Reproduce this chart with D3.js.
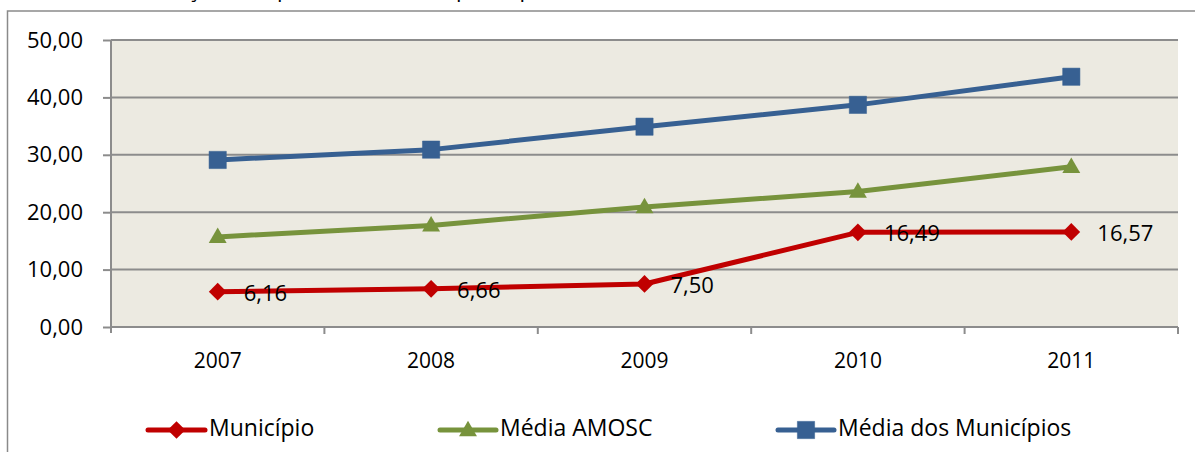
<!DOCTYPE html>
<html>
<head>
<meta charset="utf-8">
<script src="https://cdn.jsdelivr.net/npm/d3@7"></script>
<style>
  html, body { margin: 0; padding: 0; background: #fff; }
  svg { display: block; font-family: "Open Sans", "Liberation Sans", sans-serif; }
</style>
</head>
<body>
<svg id="chart" width="1195" height="452"></svg>
<script>
// Series data (R$ per capita)
const years = ["2007", "2008", "2009", "2010", "2011"];
const municipio = [6.16, 6.66, 7.50, 16.49, 16.57];
const mediaAmosc = [15.7, 17.7, 20.9, 23.6, 27.9];
const mediaMunicipios = [29.1, 30.9, 34.9, 38.7, 43.6];
const yTicks = [0, 10, 20, 30, 40, 50];
const seriesNames = ["Município", "Média AMOSC", "Média dos Municípios"];
const titleText = "Gráfico 10 – Evolução Comparativa do ICMS per capita (em reais) 2007 - 2011";

const colors = { red: "#C00000", green: "#77933C", blue: "#376092" };
const ptBR = d3.formatLocale({ decimal: ",", thousands: ".", grouping: [3], currency: ["R$", ""] });
const fmt = ptBR.format(".2f");

const svg = d3.select("#chart");
const plot = { left: 111, right: 1178, top: 40, bottom: 327 };

const x = d3.scaleBand().domain(years).range([plot.left, plot.right]);
const cx = d => x(d) + x.bandwidth() / 2;
const y = d3.scaleLinear().domain([0, 50]).range([plot.bottom, plot.top]);

// Title line, running off the top of the page
svg.append("text").attr("x", 5).attr("y", -3)
  .attr("font-size", 22).attr("fill", "#000").text(titleText);

// Outer chart frame
svg.append("rect").attr("x", 7.5).attr("y", 11).attr("width", 1200).attr("height", 460)
  .attr("fill", "#fff").attr("stroke", "#8a8a8a").attr("stroke-width", 1.5);

// Plot background
svg.append("rect").attr("x", plot.left).attr("y", plot.top)
  .attr("width", plot.right - plot.left).attr("height", plot.bottom - plot.top)
  .attr("fill", "#ECEAE1");

// Gridlines
svg.append("g").selectAll("line").data(yTicks.filter(t => t > 0)).join("line")
  .attr("x1", plot.left).attr("x2", plot.right)
  .attr("y1", d => y(d)).attr("y2", d => y(d))
  .attr("stroke", "#8c8c8c").attr("stroke-width", 2);

// Y axis
const yAxis = svg.append("g").attr("transform", `translate(${plot.left},0)`)
  .call(d3.axisLeft(y).tickValues(yTicks).tickFormat(fmt).tickSize(8).tickPadding(20));
yAxis.select(".domain").attr("stroke", "#8c8c8c").attr("stroke-width", 2).attr("d", `M0,${plot.top}V${plot.bottom + 6}`);
yAxis.selectAll(".tick line").attr("stroke", "#8c8c8c").attr("stroke-width", 2);
yAxis.selectAll(".tick text").attr("font-size", 22).attr("fill", "#000")
  .attr("font-family", "Open Sans, Liberation Sans, sans-serif");

// X axis
const xAxis = svg.append("g").attr("transform", `translate(0,${plot.bottom})`)
  .call(d3.axisBottom(x).tickSize(0).tickPadding(26));
xAxis.select(".domain").attr("stroke", "#8c8c8c").attr("stroke-width", 2)
  .attr("d", `M${plot.left},0H${plot.right}`);
xAxis.selectAll(".tick text").attr("font-size", 21).attr("fill", "#000")
  .attr("font-family", "Open Sans, Liberation Sans, sans-serif");
// category boundary ticks
svg.append("g").selectAll("line").data(years.slice(1).concat(["__end"])).join("line")
  .attr("x1", d => d === "__end" ? plot.right : x(d))
  .attr("x2", d => d === "__end" ? plot.right : x(d))
  .attr("y1", plot.bottom).attr("y2", plot.bottom + 7)
  .attr("stroke", "#8c8c8c").attr("stroke-width", 2);

const series = [
  { name: seriesNames[0], values: municipio, color: colors.red, marker: "diamond", labels: true },
  { name: seriesNames[1], values: mediaAmosc, color: colors.green, marker: "triangle" },
  { name: seriesNames[2], values: mediaMunicipios, color: colors.blue, marker: "square" }
];

const line = d3.line().x(d => cx(d.year)).y(d => y(d.v));

function drawMarker(g, type, color) {
  if (type === "diamond") {
    g.append("path").attr("d", d3.symbol().type(d3.symbolSquare2).size(200)())
      .attr("transform", "rotate(45)").attr("fill", color);
  } else if (type === "triangle") {
    g.append("path").attr("d", d3.symbol().type(d3.symbolTriangle2).size(230)())
      .attr("transform", "translate(0,1)").attr("fill", color);
  } else {
    g.append("path").attr("d", d3.symbol().type(d3.symbolSquare2).size(380)())
      .attr("fill", color).attr("stroke", color).attr("stroke-width", 0.5);
  }
}

// draw in reverse so the Município line sits on top
series.slice().reverse().forEach(s => {
  const pts = s.values.map((v, i) => ({ year: years[i], v }));
  const g = svg.append("g");
  g.append("path").datum(pts).attr("d", line)
    .attr("fill", "none").attr("stroke", s.color).attr("stroke-width", 5)
    .attr("stroke-linejoin", "round");
  pts.forEach(p => {
    const mg = g.append("g").attr("transform", `translate(${cx(p.year)},${y(p.v)})`);
    drawMarker(mg, s.marker, s.color);
  });
  if (s.labels) {
    g.selectAll("text.lbl").data(pts).join("text").attr("class", "lbl")
      .attr("x", d => cx(d.year) + 26).attr("y", d => y(d.v) + 3)
      .attr("dominant-baseline", "middle")
      .attr("font-size", 22).attr("fill", "#000")
      .text(d => fmt(d.v));
  }
});

// Legend
const legendPos = [
  { lx: 148, tx: 209 },
  { lx: 440, tx: 500 },
  { lx: 778, tx: 838 }
];
const ly = 430;
series.forEach((s, i) => {
  const p = legendPos[i];
  const g = svg.append("g");
  const x2 = p.tx - 4;
  g.append("line").attr("x1", p.lx).attr("x2", x2).attr("y1", ly).attr("y2", ly)
    .attr("stroke", s.color).attr("stroke-width", 5).attr("stroke-linecap", "round");
  const mg = g.append("g").attr("transform", `translate(${(p.lx + x2) / 2},${ly})`);
  drawMarker(mg, s.marker, s.color);
  g.append("text").attr("x", p.tx).attr("y", ly).attr("dominant-baseline", "middle")
    .attr("font-size", 23).attr("fill", "#000").text(s.name);
});
</script>
</body>
</html>
